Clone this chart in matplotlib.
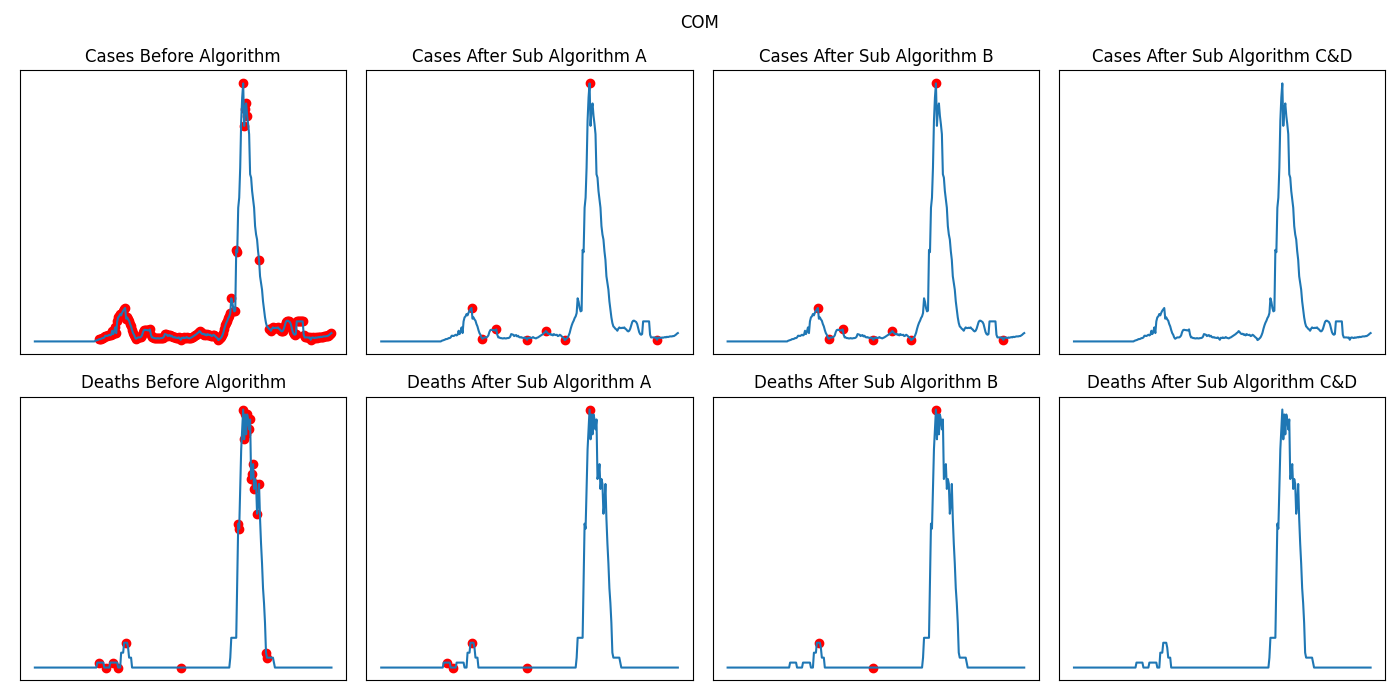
import matplotlib
matplotlib.use("Agg")
import matplotlib.pyplot as plt

# Daily series (arbitrary units)
cases = ([0] * 61 +
         [2, 3, 4, 5, 7, 7, 8, 10, 10,
          12, 17, 17, 16, 18, 20, 18, 20, 32, 22,
          30, 42, 25, 60, 72, 75, 82, 78, 86, 92,
          96, 100, 68, 72, 66, 62, 52, 45, 34, 25,
          20, 12, 8, 10, 12, 12, 12, 14, 18, 28,
          34, 35, 34, 34, 33, 33, 36, 20, 12, 12,
          10, 10, 9, 9, 10, 9, 9, 10, 10, 11,
          14, 22, 21, 20, 16, 18, 19, 15, 17, 13,
          12, 13, 11, 11, 10, 12, 9, 5, 11, 10,
          12, 10, 11, 13, 11, 10, 9, 11, 12, 14,
          16, 18, 20, 22, 25, 27, 31, 28, 24, 22,
          23, 20, 21, 18, 22, 20, 19, 20, 16, 17,
          20, 18, 15, 12, 10, 4, 6, 9, 12, 18,
          26, 38, 48, 56, 62, 70, 75, 85, 129, 118,
          100, 90, 92, 274, 267, 400, 430, 520, 660, 730,
          772, 645, 695, 712, 675, 650, 620, 500, 490, 450,
          425, 400, 345, 320, 305, 270, 244, 195, 175, 155,
          120, 95, 72, 55, 45, 42, 38, 36, 32, 38,
          42, 40, 40, 41, 40, 42, 38, 36, 32, 30,
          32, 38, 48, 58, 62, 62, 60, 58, 52, 40,
          28, 22, 20, 22, 60, 60, 60, 60, 60, 60,
          60, 20, 12, 12, 12, 12, 11, 12, 5, 11,
          12, 11, 10, 12, 11, 12, 13, 12, 14, 13,
          14, 15, 15, 15, 16, 16, 18, 20, 23, 25])

deaths = ([0] * 63 + [1] * 7 + [0] * 6 + [1] * 8 + [0] * 3 + [3] * 3 +
          [5] * 4 + [4] + [2] * 3 + [0] * 99 + [2] + [6] * 6 +
          [18, 29, 28, 36, 44, 48, 52, 46, 51, 47,
           51, 50, 48, 50, 38, 39, 41, 36, 38, 37,
           31, 33, 37, 30, 25, 21, 16, 13, 9, 3] +
          [2] * 7 + [1] + [0] * 58)

# Flagged points (indices) per panel
cases_before_flags = (list(range(65, 199)) +
                      [201, 202, 203, 204, 210, 211, 212, 213, 214, 226] +
                      list(range(236, 300)))
cases_a_flags = [91, 102, 116, 147, 166, 185, 210, 278]
cases_b_flags = [91, 102, 116, 147, 166, 185, 210, 278]
cases_cd_flags = []

deaths_before_flags = [65, 72, 79, 84, 92, 147, 205, 206, 210, 211, 212, 213,
                       214, 215, 216, 217, 218, 219, 220, 221, 223, 224, 226,
                       233, 234]
deaths_a_flags = [66, 72, 92, 147, 210]
deaths_b_flags = [92, 147, 210]
deaths_cd_flags = []

stages = ["Before Algorithm", "After Sub Algorithm A",
          "After Sub Algorithm B", "After Sub Algorithm C&D"]
rows = [("Cases", cases, [cases_before_flags, cases_a_flags, cases_b_flags, cases_cd_flags]),
        ("Deaths", deaths, [deaths_before_flags, deaths_a_flags, deaths_b_flags, deaths_cd_flags])]

fig, axes = plt.subplots(2, 4, figsize=(14, 7), dpi=100)
fig.subplots_adjust(left=0.0143, right=0.9896, top=0.8993, bottom=0.0279,
                    wspace=0.0616, hspace=0.149)
fig.suptitle("COM", y=0.98, fontsize=12)

for r, (name, series, flag_sets) in enumerate(rows):
    x = list(range(len(series)))
    for c, stage in enumerate(stages):
        ax = axes[r, c]
        flags = flag_sets[c]
        if flags:
            ax.scatter(flags, [series[i] for i in flags], color="red")
        ax.plot(x, series)
        ax.set_title(f"{name} {stage}")
        ax.set_xticks([])
        ax.set_yticks([])

fig.savefig("out.png")
